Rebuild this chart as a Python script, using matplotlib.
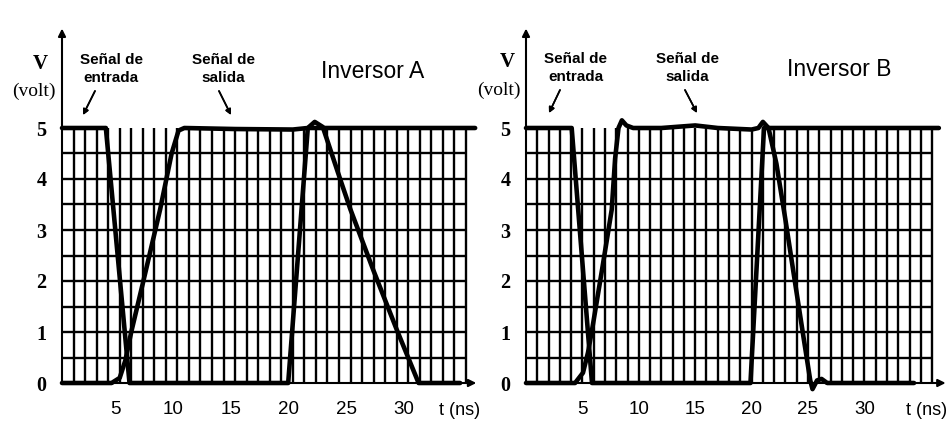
import matplotlib
matplotlib.use("Agg")
import matplotlib.pyplot as plt
import matplotlib.transforms as mtransforms
import numpy as np

# ---- Inversor A (t in ns, V in volt) ----
in_a_t = [0, 3.8, 5.85, 19.6, 21.3, 35.8]
in_a_v = [5, 5, 0, 0, 5, 5]
out_a_t = [0, 4.3, 5.0, 5.5, 6.0, 7.0, 8.5, 9.5, 10.1, 10.6, 15, 20, 21.3, 21.9,
           22.6, 24.1, 25.0, 27.0, 29.0, 30.9, 34.5]
out_a_v = [0, 0, 0.1, 0.45, 1.0, 1.95, 3.4, 4.5, 4.95, 5.0, 4.98, 4.97, 5.0, 5.12,
           5.02, 4.0, 3.4, 2.2, 1.05, 0, 0]

# ---- Inversor B ----
in_b_t = [0, 4.05, 5.85, 19.9, 21.1, 36.6]
in_b_v = [5, 5, 0, 0, 5, 5]
out_b_t = [0, 4.35, 5.05, 5.5, 5.9, 6.8, 7.6, 7.9, 8.2, 8.5, 8.9, 9.5, 12, 15, 17,
           20, 20.6, 21.0, 21.5, 22.2, 23.0, 23.9, 24.6, 25.2, 25.4, 25.8, 26.2,
           26.7, 34.4]
out_b_v = [0, 0, 0.2, 0.6, 1.1, 2.3, 3.4, 4.4, 5.0, 5.15, 5.05, 5.0, 5.0, 5.05, 5.0,
           4.97, 5.0, 5.12, 5.0, 4.3, 3.2, 1.9, 0.9, 0.05, -0.12, 0.05, 0.08,
           0.0, 0]

x_ticks = [5, 10, 15, 20, 25, 30]
y_ticks = [0, 1, 2, 3, 4, 5]

W, H = 948, 448
fig = plt.figure(figsize=(W / 100, H / 100), dpi=100)
fig.patch.set_facecolor("white")


def fpx(x, y):
    # pixel position (from top-left) -> figure fraction
    return (x / W, 1 - y / H)


def panel(x0, px_per_ns, n_cols, xmax, in_t, in_v, out_t, out_v, shift):
    ymax = 6.95
    ax = fig.add_axes([x0 / W, (H - 383) / H, xmax * px_per_ns / W, ymax * 51 / H])
    ax.set_xlim(0, xmax)
    ax.set_ylim(0, ymax)
    for s in ax.spines.values():
        s.set_visible(False)

    # grid
    ax.vlines(np.arange(1, n_cols + 1), 0, 5, color="black", lw=1.7)
    ax.hlines(np.arange(0.5, 5, 0.5), 0, n_cols, color="black", lw=1.7)

    # axes with arrow heads
    arr = dict(arrowstyle="-|>", lw=1.5, color="black", shrinkA=0, shrinkB=0,
               mutation_scale=11)
    ax.annotate("", xy=(0, ymax), xytext=(0, 0), arrowprops=arr, annotation_clip=False)
    ax.annotate("", xy=(xmax, 0), xytext=(0, 0), arrowprops=arr, annotation_clip=False)

    # signals
    ax.plot(in_t, in_v, color="black", lw=3.3, solid_joinstyle="round",
            solid_capstyle="round", clip_on=False)
    ax.plot(out_t, out_v, color="black", lw=3.3, solid_joinstyle="round",
            solid_capstyle="round", clip_on=False)

    ax.set_xticks(x_ticks)
    ax.set_xticklabels([str(v) for v in x_ticks], fontsize=13.5,
                       family="Liberation Sans")
    ax.set_yticks(y_ticks)
    ax.set_yticklabels([str(v) for v in y_ticks], fontsize=14.5,
                       family="Liberation Serif", fontweight="bold")
    ax.tick_params(axis="x", length=0, pad=13)
    ax.tick_params(axis="y", length=0, pad=11)
    off = mtransforms.ScaledTranslation(shift / 100, 0, fig.dpi_scale_trans)
    for lab in ax.get_xticklabels():
        lab.set_transform(lab.get_transform() + off)
    return ax


panel(62, 11.54, 35, 35.9, in_a_t, in_a_v, out_a_t, out_a_v, -4)
panel(526, 11.28, 36, 37.2, in_b_t, in_b_v, out_b_t, out_b_v, 0)

narrow = ["Liberation Sans Narrow", "Liberation Sans"]
serif = "Liberation Serif"
note_kw = dict(fontsize=11, family=narrow, fontweight="bold", ha="center",
               va="center", linespacing=1.3)
arr_kw = dict(arrowstyle="-|>", lw=1.2, color="black", mutation_scale=8,
              shrinkA=0, shrinkB=0)

# Panel A texts
fig.text(*fpx(40, 64), "V", fontsize=15, family=serif, fontweight="bold",
         ha="center", va="center")
fig.text(*fpx(34, 91), "(volt)", fontsize=14, family=serif, ha="center", va="center")
fig.text(*fpx(111, 69), "Señal de\nentrada", **note_kw)
fig.text(*fpx(223, 69), "Señal de\nsalida", **note_kw)
fig.text(*fpx(373, 72), "Inversor A", fontsize=16.5, family="Liberation Sans",
         ha="center", va="center")
fig.text(*fpx(460, 410), "t (ns)", fontsize=13, family="Liberation Sans",
         ha="center", va="center")
fig.add_artist(plt.annotate("", xy=fpx(83, 115), xytext=fpx(95, 91),
                            xycoords="figure fraction", arrowprops=arr_kw))
fig.add_artist(plt.annotate("", xy=fpx(231, 115), xytext=fpx(219, 91),
                            xycoords="figure fraction", arrowprops=arr_kw))

# Panel B texts
fig.text(*fpx(507, 62), "V", fontsize=15, family=serif, fontweight="bold",
         ha="center", va="center")
fig.text(*fpx(499, 90), "(volt)", fontsize=14, family=serif, ha="center", va="center")
fig.text(*fpx(576, 68), "Señal de\nentrada", **note_kw)
fig.text(*fpx(687, 68), "Señal de\nsalida", **note_kw)
fig.text(*fpx(839, 70), "Inversor B", fontsize=16.5, family="Liberation Sans",
         ha="center", va="center")
fig.text(*fpx(927, 410), "t (ns)", fontsize=13, family="Liberation Sans",
         ha="center", va="center")
fig.add_artist(plt.annotate("", xy=fpx(549, 113), xytext=fpx(560, 90),
                            xycoords="figure fraction", arrowprops=arr_kw))
fig.add_artist(plt.annotate("", xy=fpx(697, 113), xytext=fpx(685, 90),
                            xycoords="figure fraction", arrowprops=arr_kw))

fig.savefig("out.png", dpi=100, facecolor="white")
